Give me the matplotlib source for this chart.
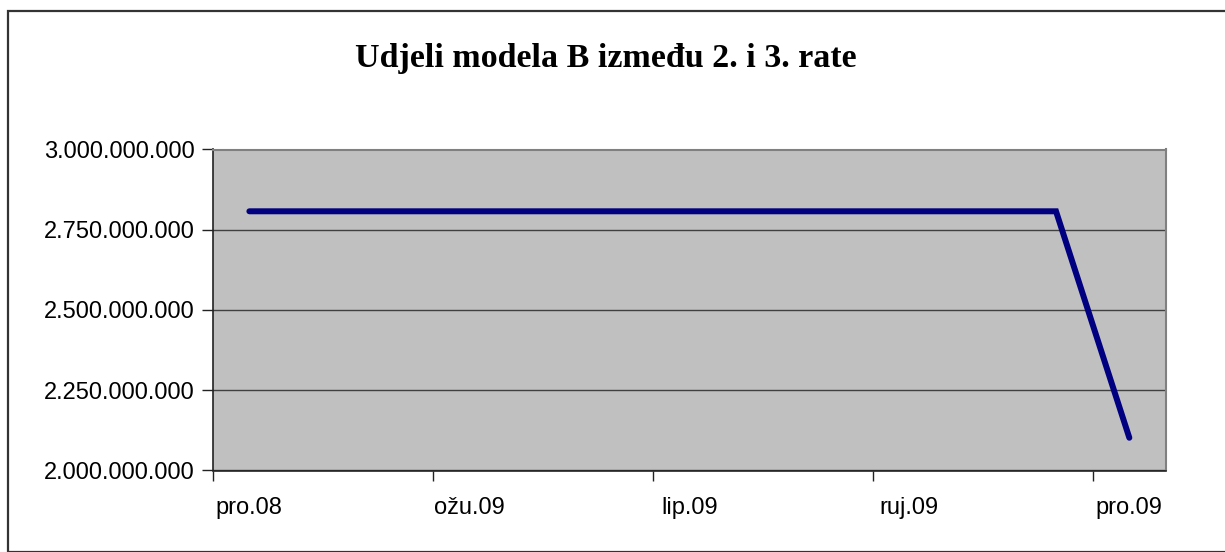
import matplotlib
matplotlib.use("Agg")
import matplotlib.pyplot as plt
from matplotlib.patches import Rectangle
from matplotlib.ticker import FuncFormatter

# Podaci (mjesečno, pro.08 - pro.09)
mjeseci = ["pro.08", "sij.09", "velj.09", "ožu.09", "tra.09", "svi.09", "lip.09",
           "srp.09", "kol.09", "ruj.09", "lis.09", "stu.09", "pro.09"]
udjeli = [2807500000, 2807500000, 2807500000, 2807500000, 2807500000, 2807500000,
          2807500000, 2807500000, 2807500000, 2807500000, 2807500000, 2807500000,
          2102000000]
oznake_x = ["pro.08", "ožu.09", "lip.09", "ruj.09", "pro.09"]
y_ticks = [2000000000, 2250000000, 2500000000, 2750000000, 3000000000]

W, H = 1225, 552
fig = plt.figure(figsize=(W / 100, H / 100), dpi=100)

# okvir grafikona
fig.patches.append(Rectangle((8 / W, 0), 1.2, 1 - 11 / H, transform=fig.transFigure,
                             fill=False, edgecolor="#333333", linewidth=1.6))

ax = fig.add_axes([212.7 / W, 1 - 470.5 / H, (1166 - 212.7) / W, (470.5 - 149.5) / H])
ax.set_facecolor("#C0C0C0")

x = list(range(len(mjeseci)))
ax.plot(x, udjeli, color="#000080", linewidth=4.3, solid_capstyle="round",
        solid_joinstyle="miter", zorder=3)

ax.set_xlim(-0.5, len(mjeseci) - 0.5)
ax.set_ylim(y_ticks[0], y_ticks[-1])

# glavne oznake = granice kategorija, sporedne = nazivi
ax.set_xticks([i - 0.5 for i in range(0, len(mjeseci), 3)])
ax.set_xticklabels([])
ax.set_xticks([mjeseci.index(m) for m in oznake_x], minor=True)
ax.set_xticklabels(oznake_x, minor=True)
ax.tick_params(axis="x", which="major", length=7, width=1, color="#222222", direction="out")
ax.tick_params(axis="x", which="minor", length=0, pad=19, labelsize=17)

ax.set_yticks(y_ticks)
ax.yaxis.set_major_formatter(FuncFormatter(lambda v, p: f"{int(v):,}".replace(",", ".")))
ax.tick_params(axis="y", length=8, width=1, color="#222222", pad=5, labelsize=17)

for lab in ax.get_xticklabels(minor=True) + ax.get_yticklabels():
    lab.set_fontfamily("Liberation Sans")

ax.grid(axis="y", color="#404040", linewidth=1)
ax.set_axisbelow(True)

for s in ["left", "bottom"]:
    ax.spines[s].set_color("#222222")
    ax.spines[s].set_linewidth(1.2)
for s in ["top", "right"]:
    ax.spines[s].set_color("#808080")
    ax.spines[s].set_linewidth(1.5)

fig.text(606 / W, 1 - 58 / H, "Udjeli modela B između 2. i 3. rate",
         ha="center", va="center", fontsize=24.5, fontweight="bold",
         fontfamily="Liberation Serif")

fig.savefig("out.png", dpi=100)
